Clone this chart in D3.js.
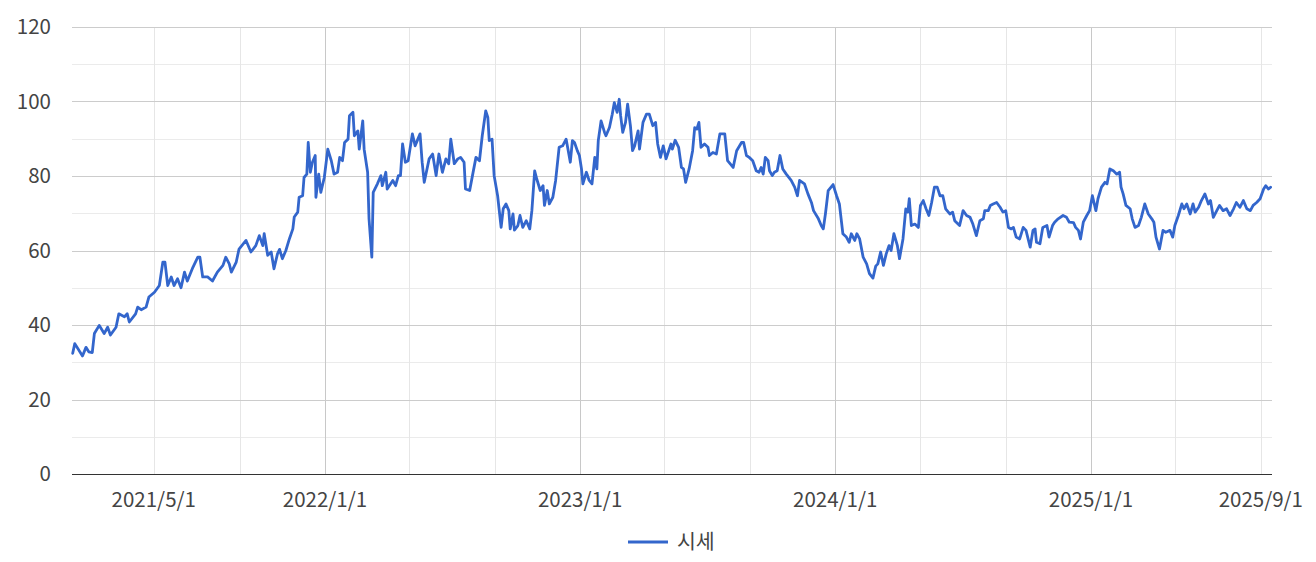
<!DOCTYPE html>
<html><head><meta charset="utf-8">
<script src="https://cdn.jsdelivr.net/npm/d3@7"></script>
<style>body{margin:0;background:#fff}svg{display:block}</style>
</head><body><svg id="c" width="1316" height="562"></svg>
<script>
const seriesName = "시세";
const dates = [
"2021-01-05","2021-01-08","2021-01-19","2021-01-24","2021-01-28","2021-02-02","2021-02-05","2021-02-12","2021-02-19","2021-02-24","2021-02-28",
"2021-03-08","2021-03-12","2021-03-20","2021-03-24","2021-03-27","2021-04-05","2021-04-08","2021-04-13","2021-04-20","2021-04-24",
"2021-05-02","2021-05-09","2021-05-14","2021-05-17","2021-05-21","2021-05-26","2021-05-30","2021-06-04","2021-06-09","2021-06-14","2021-06-18","2021-06-26",
"2021-07-03","2021-07-06","2021-07-10","2021-07-17","2021-07-24","2021-07-31","2021-08-08","2021-08-12","2021-08-17","2021-08-20","2021-08-27","2021-08-31",
"2021-09-10","2021-09-17","2021-09-24","2021-09-29","2021-10-04","2021-10-06","2021-10-11","2021-10-16","2021-10-20","2021-10-25","2021-10-28",
"2021-11-01","2021-11-06","2021-11-11","2021-11-16","2021-11-18","2021-11-23","2021-11-25","2021-11-30","2021-12-02","2021-12-06","2021-12-08",
"2021-12-11","2021-12-14","2021-12-18","2021-12-19","2021-12-23","2021-12-26","2021-12-31",
"2022-01-05","2022-01-10","2022-01-14","2022-01-19","2022-01-22","2022-01-26","2022-01-29","2022-02-03","2022-02-05","2022-02-10","2022-02-12",
"2022-02-17","2022-02-19","2022-02-24","2022-02-26","2022-03-03","2022-03-05","2022-03-09","2022-03-11","2022-03-17","2022-03-22","2022-03-24",
"2022-03-29","2022-03-31","2022-04-08","2022-04-12","2022-04-16","2022-04-19","2022-04-22","2022-04-26","2022-04-30","2022-05-06","2022-05-10",
"2022-05-13","2022-05-17","2022-05-20","2022-05-23","2022-05-30","2022-06-04","2022-06-09","2022-06-13","2022-06-18","2022-06-23","2022-06-27",
"2022-06-30","2022-07-05","2022-07-10","2022-07-14","2022-07-19","2022-07-21","2022-07-27","2022-07-31","2022-08-05","2022-08-10","2022-08-14",
"2022-08-19","2022-08-22","2022-08-24","2022-08-28","2022-08-31","2022-09-05","2022-09-10","2022-09-13","2022-09-17","2022-09-21","2022-09-23",
"2022-09-27","2022-09-29","2022-10-04","2022-10-07","2022-10-11","2022-10-16","2022-10-21","2022-10-24","2022-10-28","2022-10-31","2022-11-05",
"2022-11-09","2022-11-11","2022-11-15","2022-11-18","2022-11-23","2022-11-27","2022-12-02","2022-12-07","2022-12-12","2022-12-18","2022-12-21",
"2022-12-24","2022-12-28","2022-12-31",
"2023-01-03","2023-01-05","2023-01-10","2023-01-14","2023-01-18","2023-01-22","2023-01-25","2023-01-27","2023-01-31","2023-02-05","2023-02-07",
"2023-02-12","2023-02-16","2023-02-19","2023-02-23","2023-02-26","2023-02-28","2023-03-03","2023-03-07","2023-03-10","2023-03-14","2023-03-17",
"2023-03-20","2023-03-25","2023-03-27","2023-04-01","2023-04-06","2023-04-10","2023-04-15","2023-04-19","2023-04-22","2023-04-26","2023-04-30",
"2023-05-04","2023-05-11","2023-05-13","2023-05-17","2023-05-22","2023-05-26","2023-05-29","2023-06-01","2023-06-06","2023-06-11","2023-06-14",
"2023-06-17","2023-06-20","2023-06-23","2023-06-28","2023-07-03","2023-07-05","2023-07-10","2023-07-15","2023-07-20","2023-07-27","2023-07-31",
"2023-08-08","2023-08-13","2023-08-20","2023-08-23","2023-08-27","2023-08-31","2023-09-05","2023-09-10","2023-09-14","2023-09-17","2023-09-20",
"2023-09-23","2023-09-27","2023-09-29","2023-10-03","2023-10-06","2023-10-10","2023-10-14","2023-10-18","2023-10-23","2023-10-30","2023-11-04",
"2023-11-08","2023-11-11","2023-11-15","2023-11-18","2023-11-23","2023-11-28","2023-12-01","2023-12-08","2023-12-12","2023-12-15","2023-12-18",
"2023-12-22","2023-12-29",
"2024-01-03","2024-01-07","2024-01-12","2024-01-17","2024-01-21","2024-01-24","2024-01-29","2024-02-01","2024-02-05","2024-02-10","2024-02-15",
"2024-02-19","2024-02-24","2024-02-28","2024-03-02","2024-03-06","2024-03-10","2024-03-14","2024-03-18","2024-03-21","2024-03-25","2024-03-30",
"2024-04-02","2024-04-07","2024-04-11","2024-04-14","2024-04-16","2024-04-19","2024-04-24","2024-04-29","2024-05-02","2024-05-06","2024-05-10",
"2024-05-14","2024-05-18","2024-05-22","2024-05-26","2024-05-30","2024-06-03","2024-06-07","2024-06-13","2024-06-17","2024-06-20","2024-06-27",
"2024-07-02","2024-07-07","2024-07-12","2024-07-16","2024-07-21","2024-07-26","2024-07-31","2024-08-02","2024-08-07","2024-08-10","2024-08-14",
"2024-08-19","2024-08-24","2024-08-28","2024-09-01","2024-09-05","2024-09-09","2024-09-12","2024-09-16","2024-09-21","2024-09-26","2024-09-30",
"2024-10-06","2024-10-10","2024-10-13","2024-10-15","2024-10-20","2024-10-24","2024-10-30","2024-11-02","2024-11-07","2024-11-10","2024-11-15",
"2024-11-22","2024-11-27","2024-12-01","2024-12-07","2024-12-10","2024-12-14","2024-12-17","2024-12-21","2024-12-26","2024-12-30",
"2025-01-03","2025-01-08","2025-01-11","2025-01-16","2025-01-21","2025-01-24","2025-01-28","2025-02-02","2025-02-07","2025-02-11","2025-02-13",
"2025-02-16","2025-02-20","2025-02-26","2025-03-01","2025-03-05","2025-03-10","2025-03-14","2025-03-19","2025-03-24","2025-03-29","2025-04-01",
"2025-04-04","2025-04-09","2025-04-14","2025-04-18","2025-04-24","2025-04-28","2025-05-01","2025-05-06","2025-05-11","2025-05-14","2025-05-18",
"2025-05-23","2025-05-27","2025-05-30","2025-06-04","2025-06-08","2025-06-13","2025-06-18","2025-06-21","2025-06-25","2025-06-30","2025-07-04",
"2025-07-09","2025-07-14","2025-07-19","2025-07-24","2025-07-28","2025-08-02","2025-08-07","2025-08-12","2025-08-17","2025-08-21","2025-08-26",
"2025-08-31","2025-09-05","2025-09-08","2025-09-12","2025-09-15"
];
const values = [
32.4,35,31.7,34,32.8,32.6,37.7,39.9,37.7,39.4,37.3,
39.4,43,42.2,43,40.8,43,44.8,44.1,44.8,47.5,
48.8,50.6,56.9,56.9,50.6,52.9,50.6,52.4,50,54.2,51.8,55.5,
58.2,58.2,52.9,52.9,51.8,54.2,56,58.2,56.4,54.2,56.9,60.4,
62.7,59.6,61.3,64,61.3,64.5,58.7,59.6,55.1,59.1,60.3,
57.8,60,63.1,65.8,69,70.3,74.3,74.7,79.6,80.5,89,
81,83.7,85.5,74.3,80.5,75.6,79.6,
87.2,84.1,80.5,81,85,84.1,89,89.9,96.2,97.1,90.8,
92.1,87.2,94.8,87.2,81,68.5,58.2,75.6,77.9,80.1,77.4,
81,76.5,78.8,77.4,80.1,80.1,88.6,83.7,84.1,91.3,88.1,
89.5,91.3,83.7,78.3,84.6,85.9,80.1,85.9,81,84.6,83.3,
89.9,83.3,84.6,85,83.7,76.5,76.1,80.1,85,84.1,90.8,
97.5,95.7,89.5,89.9,80.1,74.7,66.2,71.2,72.5,70.7,65.8,
69.8,65.5,66.7,69.4,66.2,68,65.8,70.7,81.4,79.2,76.1,
77.4,72.1,76.1,72.5,74.3,78.8,87.7,88.1,89.9,83.7,89.5,
89,86.8,85.5,
81.9,77.9,81,78.8,77.9,85,81.9,89.5,94.8,91.7,90.8,
93,96.6,99.7,97.1,100.6,96.2,91.7,94.4,99.3,93.5,86.8,
88.1,92.1,87.2,94.4,96.6,96.6,93.5,94.4,88.6,85,88.1,
84.6,88.6,87.2,89.6,87.7,82.3,81.9,78.3,81.9,86.8,93,
92.6,94.4,87.7,88.6,87.7,85.5,86.3,85.9,91.3,91.3,84.1,
82.3,86.8,89,89,85.5,85,84.1,81.4,81,82.3,80.5,
85,84.1,81.4,80.1,81,81.4,85.5,81.9,80.5,78.8,77,
74.7,78.8,78.3,77.9,75.2,72.9,70.7,68.5,66.7,65.8,69.8,
76.1,77.7,
74.7,72.5,64.5,63.6,62.2,64.5,62.7,64.5,63.1,58.2,56.4,
53.8,52.6,55.8,56.4,59.6,56,59.1,61.3,60,64.5,61.3,
57.8,63.1,71.2,70.3,73.9,66.7,67.1,66.2,72.1,73.4,71.2,
69.4,72.9,77,77,74.7,74.7,71.2,69.8,70.3,68,66.7,
70.7,69.4,68.9,67.1,64,68,68.5,70.7,70.7,72.1,72.5,
72.9,71.6,70.3,70.7,66.2,65.8,66.2,63.6,63.1,66.2,65.4,
60.9,65.4,65.8,62.2,61.8,66.2,66.7,63.6,66.7,67.6,68.5,
69.4,68.9,67.6,67.5,66.2,65.4,63.1,67.6,69.4,70.7,
74.7,70.7,73.9,77,78.3,77.9,81.9,81.4,80.5,81,77,
75.2,72.1,71.2,68.5,66.2,66.7,68.9,72.5,69.8,68.5,67.6,
63.6,60.4,65.4,64.9,65.4,63.6,66.7,69.4,72.5,71.2,72.5,
69.8,72.5,70.3,71.6,73.4,75.2,72.5,73.4,68.9,70.7,72.1,
70.7,71.2,69.4,71.2,72.9,71.6,73.4,71.2,70.7,72.1,72.9,
73.9,76.5,77.4,76.5,77
];
const yTicks = [0,20,40,60,80,100,120];
const yMinorTicks = [10,30,50,70,90,110];
const xDomain = ["2021-01-04","2025-09-17"];
const xGridDates = ["2021-05-01","2021-09-01","2022-01-01","2022-05-01","2022-09-01","2023-01-01","2023-05-01","2023-09-01","2024-01-01","2024-05-01","2024-09-01","2025-01-01","2025-05-01","2025-09-01"];
const xMajorGridDates = ["2022-01-01","2023-01-01","2024-01-01","2025-01-01"];
const xTickDates = ["2021-05-01","2022-01-01","2023-01-01","2024-01-01","2025-01-01","2025-09-01"];
const xTickLabels = ["2021/5/1","2022/1/1","2023/1/1","2024/1/1","2025/1/1","2025/9/1"];

const parse = d3.timeParse("%Y-%m-%d");
const data = dates.map((d,i)=>({date:parse(d), value:values[i]}));
const M = {left:72, right:1272, top:27, bottom:474};
const x = d3.scaleTime().domain(xDomain.map(parse)).range([M.left, M.right]);
const y = d3.scaleLinear().domain([0,120]).range([M.bottom, M.top]);
const svg = d3.select("#c");
const font = "'Noto Sans CJK KR','Noto Sans',sans-serif";
const fs = 20.5;

svg.append("g").selectAll("line").data(yMinorTicks).join("line")
  .attr("x1",M.left).attr("x2",M.right).attr("y1",d=>Math.round(y(d))+0.5).attr("y2",d=>Math.round(y(d))+0.5)
  .attr("stroke","#ebebeb").attr("stroke-width",1);
const majorSet = new Set(xMajorGridDates);
svg.append("g").selectAll("line").data(xGridDates).join("line")
  .attr("x1",d=>Math.round(x(parse(d)))+0.5).attr("x2",d=>Math.round(x(parse(d)))+0.5)
  .attr("y1",M.top).attr("y2",M.bottom)
  .attr("stroke",d=>majorSet.has(d)?"#c8c8c8":"#e6e6e6").attr("stroke-width",1);
svg.append("g").selectAll("line").data(yTicks.filter(d=>d>0)).join("line")
  .attr("x1",M.left).attr("x2",M.right).attr("y1",d=>Math.round(y(d))+0.5).attr("y2",d=>Math.round(y(d))+0.5)
  .attr("stroke","#cccccc").attr("stroke-width",1);
svg.append("line").attr("x1",M.left).attr("x2",M.right)
  .attr("y1",Math.round(y(0))+0.5).attr("y2",Math.round(y(0))+0.5)
  .attr("stroke","#333").attr("stroke-width",1);

svg.append("g").selectAll("text").data(yTicks).join("text")
  .attr("x",51).attr("y",d=>y(d)).attr("dy","0.35em")
  .attr("text-anchor","end").attr("font-family",font).attr("font-size",fs).attr("fill","#444")
  .text(d=>d);
svg.append("g").selectAll("text").data(xTickDates).join("text")
  .attr("x",d=>x(parse(d))).attr("y",507)
  .attr("text-anchor","middle").attr("font-family",font).attr("font-size",fs).attr("fill","#444")
  .text((d,i)=>xTickLabels[i]);

const line = d3.line().x(d=>x(d.date)).y(d=>y(d.value));
svg.append("path").datum(data).attr("d",line)
  .attr("fill","none").attr("stroke","#3366cc").attr("stroke-width",2.8)
  .attr("stroke-linejoin","round").attr("stroke-linecap","round");

const lg = svg.append("g");
lg.append("line").attr("x1",628).attr("x2",668).attr("y1",542).attr("y2",542)
  .attr("stroke","#3366cc").attr("stroke-width",3);
lg.append("text").attr("x",677).attr("y",542).attr("dy","0.35em")
  .attr("font-family",font).attr("font-size",fs).attr("fill","#444").text(seriesName);
</script></body></html>
